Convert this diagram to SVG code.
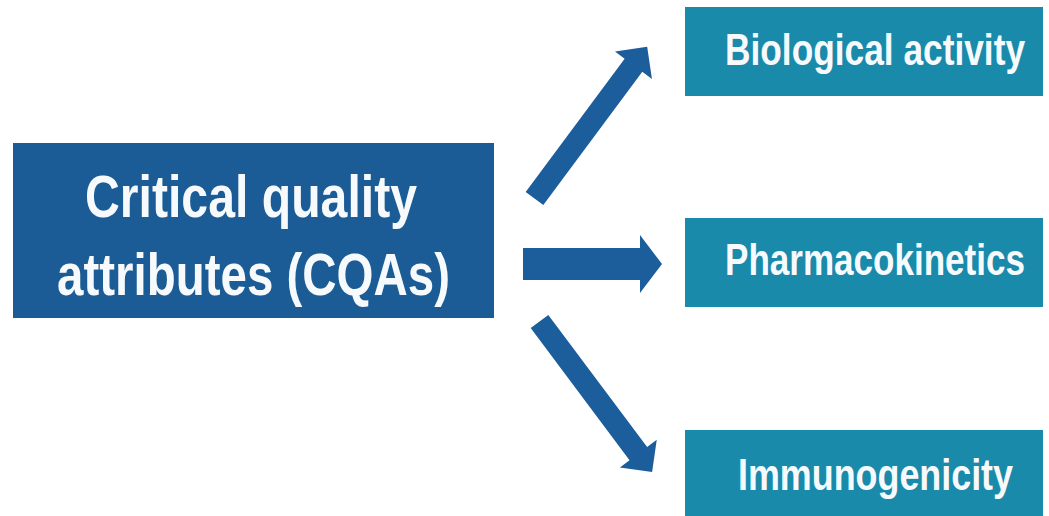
<svg xmlns="http://www.w3.org/2000/svg" width="1049" height="516" viewBox="0 0 1049 516">
<style>
.main{fill:#1b5c96}
.sub{fill:#1a8aab}
.arrow{fill:#1c5d9b}
.t{font-family:"Liberation Sans Narrow","Liberation Sans",Arial,sans-serif;font-weight:bold;fill:#f7fafc}
.tm{font-size:60px}
.ts{font-size:44px}
</style>
<rect width="1049" height="516" fill="#ffffff"/>
<g id="cqa">
<rect class="main" x="13" y="143" width="481" height="175"/>
<text class="t tm" x="85" y="217" textLength="332" lengthAdjust="spacingAndGlyphs">Critical quality</text>
<text class="t tm" x="57" y="295" textLength="393" lengthAdjust="spacingAndGlyphs">attributes (CQAs)</text>
</g>
<g id="bio">
<rect class="sub" x="685" y="7" width="358" height="89"/>
<text class="t ts" x="725" y="65" textLength="300" lengthAdjust="spacingAndGlyphs">Biological activity</text>
</g>
<g id="pk">
<rect class="sub" x="685" y="218" width="358" height="89"/>
<text class="t ts" x="725" y="275" textLength="300" lengthAdjust="spacingAndGlyphs">Pharmacokinetics</text>
</g>
<g id="immuno">
<rect class="sub" x="685" y="430" width="358" height="90"/>
<text class="t ts" x="738" y="490" textLength="275" lengthAdjust="spacingAndGlyphs">Immunogenicity</text>
</g>
<g id="connectors">
<path class="arrow" transform="translate(534.5,198.5) rotate(-53.4)" d="M0,-11 H166 V-23 L189,0 L166,23 V11 H0 Z"/>
<polygon class="arrow" points="523,248 640,248 640,235 662,264 640,293 640,280 523,280"/>
<path class="arrow" transform="translate(539.5,321.5) rotate(53.2)" d="M0,-11 H165 V-23 L188,0 L165,23 V11 H0 Z"/>
</g>
</svg>
